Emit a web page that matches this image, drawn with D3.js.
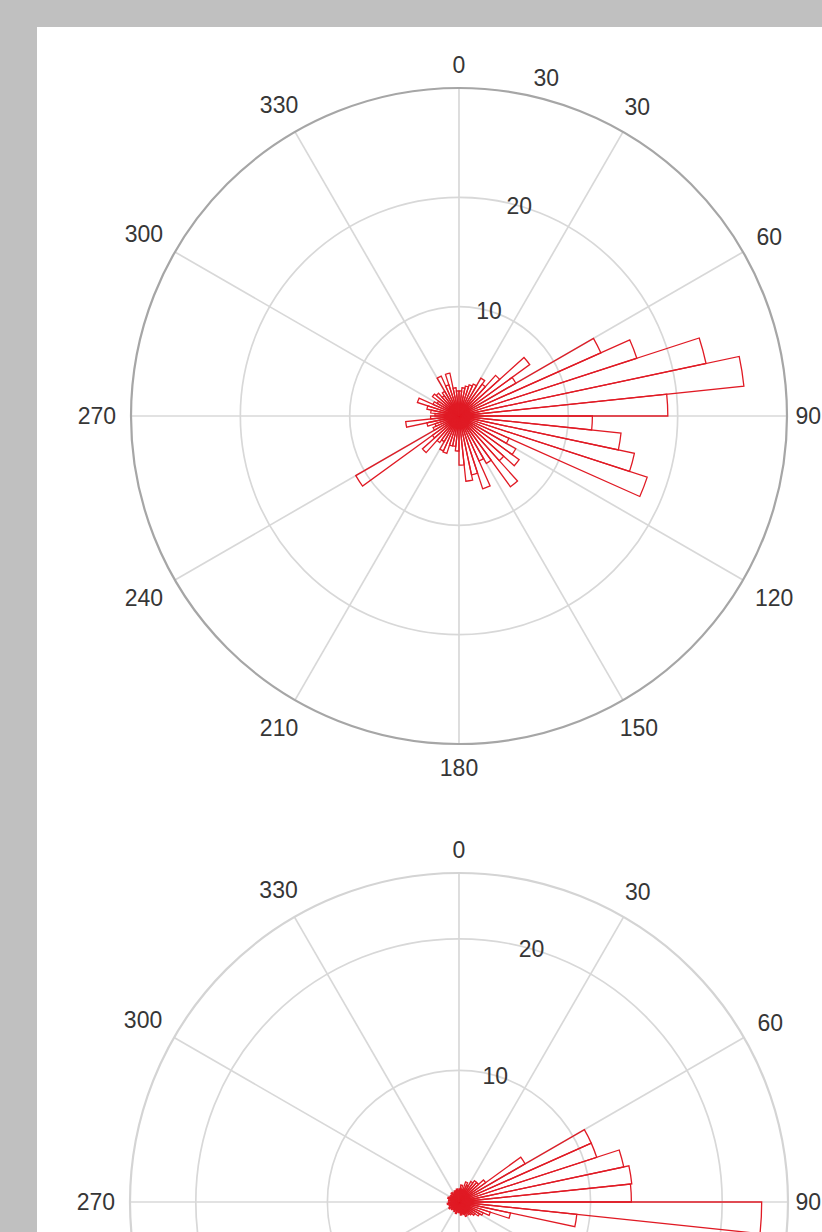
<!DOCTYPE html>
<meta charset="utf-8">
<title>Polar histograms</title>
<style>
    body {
        margin: 0;
        background: #c0c0c0;
    }
    text {
        font-family: "Liberation Sans", Arial, sans-serif;
        font-size: 23px;
        fill: #363636;
    }
</style>

<body>
    <div id="fig"></div>

    <script src="https://cdn.jsdelivr.net/npm/d3@7"></script>
    <script>
        // bins are 6 degrees wide, compass style (0 at top, clockwise)
        var binStarts = d3.range(0, 360, 6);
        var thetaTicks = [0, 30, 60, 90, 120, 150, 180, 210, 240, 270, 300, 330];

        // top histogram: counts per bin
        var topCounts = [
            2.3, 2.6, 2.8, 3.0, 3.2, 4.0, 3.6, 5.0, 8.0, 6.0,
            14.2, 17.1, 23.1, 26.2, 19.1, 12.2, 14.9, 16.4, 18.1, 5.0,
            6.0, 6.8, 5.5, 8.0, 5.0, 4.5, 7.0, 5.5, 6.0, 4.5,
            3.2, 2.8, 2.8, 3.6, 3.5, 2.7, 3.0, 4.5, 3.0, 10.9,
            2.6, 2.3, 3.0, 4.9, 2.6, 2.2, 2.6, 3.0, 4.0, 2.6,
            2.3, 3.0, 2.8, 2.3, 2.6, 4.0, 3.0, 4.0, 2.6, 2.3
        ];
        var topRTicks = [10, 20, 30];
        var topRMax = 30;

        // bottom histogram
        var bottomCounts = [
            1.0, 1.3, 1.0, 1.6, 1.4, 1.8, 2.0, 2.0, 2.5, 5.8,
            11.0, 11.0, 12.8, 13.2, 13.1, 23.0, 9.0, 4.0, 2.5, 2.0,
            1.8, 1.5, 1.3, 1.2, 1.0, 1.2, 1.0, 0.9, 1.0, 0.8,
            0.8, 0.7, 0.9, 0.6, 0.8, 0.7, 0.6, 0.8, 0.7, 0.9,
            0.6, 0.8, 0.7, 0.9, 0.8, 0.6, 0.8, 0.7, 0.9, 0.8,
            0.7, 0.8, 0.6, 0.9, 0.7, 0.8, 0.9, 0.8, 1.0, 0.9
        ];
        var bottomRTicks = [10, 20];
        var bottomRMax = 25;

        var W = 822, H = 1232;

        var svg = d3.select("#fig")
            .append("svg")
            .attr("width", W)
            .attr("height", H);

        svg.append("rect")
            .attr("width", W).attr("height", H)
            .attr("fill", "#c0c0c0");
        svg.append("rect")
            .attr("x", 37).attr("y", 27)
            .attr("width", W - 37).attr("height", H - 27)
            .attr("fill", "#fff");

        var angle = d3.scaleLinear().domain([0, 360]).range([0, 2 * Math.PI]);

        function polarHist(cx, cy, R, rMax, rTicks, counts, outerColor) {
            var g = svg.append("g")
                .attr("transform", "translate(" + cx + "," + cy + ")");
            var r = d3.scaleLinear().domain([0, rMax]).range([0, R]);

            // rings
            g.selectAll(".ring")
                .data(rTicks.filter(function(t) { return t < rMax; }))
                .enter().append("circle")
                .attr("r", function(d) { return r(d); })
                .attr("fill", "none")
                .attr("stroke", "#d8d8d8")
                .attr("stroke-width", 1.7);

            // spokes
            g.selectAll(".spoke")
                .data(thetaTicks)
                .enter().append("line")
                .attr("x1", 0).attr("y1", 0)
                .attr("x2", function(d) { return R * Math.sin(angle(d)); })
                .attr("y2", function(d) { return -R * Math.cos(angle(d)); })
                .attr("stroke", "#d8d8d8")
                .attr("stroke-width", 1.7);

            // outer boundary
            g.append("circle")
                .attr("r", R)
                .attr("fill", "none")
                .attr("stroke", outerColor)
                .attr("stroke-width", 2.2);

            // bars
            var arc = d3.arc().innerRadius(0);
            g.selectAll(".bar")
                .data(counts)
                .enter().append("path")
                .attr("d", function(d, i) {
                    return arc({
                        outerRadius: r(d),
                        startAngle: angle(binStarts[i]),
                        endAngle: angle(binStarts[i] + 6)
                    });
                })
                .attr("fill", "none")
                .attr("stroke", "#e01a24")
                .attr("stroke-width", 1.3)
                .attr("stroke-linejoin", "miter");

            // theta labels, pushed out by their own size; skip ones off the page,
            // and nudge the one at the right edge back inside
            var lab = g.selectAll(".tlab")
                .data(thetaTicks)
                .enter().append("text")
                .attr("text-anchor", "middle")
                .attr("dy", "0.36em")
                .text(function(d) { return d; });
            lab.each(function(d) {
                var bb = this.getBBox();
                var a = angle(d);
                var rr = R + 15 + Math.abs(Math.sin(a)) * bb.width / 2 + Math.abs(Math.cos(a)) * 8.5;
                var x = rr * Math.sin(a);
                var y = -rr * Math.cos(a);
                if (cy + y > H) {
                    d3.select(this).remove();
                    return;
                }
                if (cx + x + bb.width / 2 > W - 1) x = W - 1 - bb.width / 2 - cx;
                d3.select(this)
                    .attr("x", x)
                    .attr("y", y);
            });

            // r tick labels along ~16 degrees (the outermost one sits outside the rim)
            g.selectAll(".rlab")
                .data(rTicks)
                .enter().append("text")
                .attr("text-anchor", "middle")
                .attr("dy", "0.36em")
                .attr("x", function(d) {
                    var rr = r(d) + (d === rMax ? 21 : 0);
                    return rr * Math.sin(angle(d === rMax ? 14.5 : 16));
                })
                .attr("y", function(d) {
                    var rr = r(d) + (d === rMax ? 21 : 0);
                    return -rr * Math.cos(angle(d === rMax ? 14.5 : 16));
                })
                .text(function(d) { return d; });
        }

        polarHist(459, 416, 328, topRMax, topRTicks, topCounts, "#a6a6a6");
        polarHist(459, 1202, 329, bottomRMax, bottomRTicks, bottomCounts, "#d4d4d4");
    </script>
</body>
